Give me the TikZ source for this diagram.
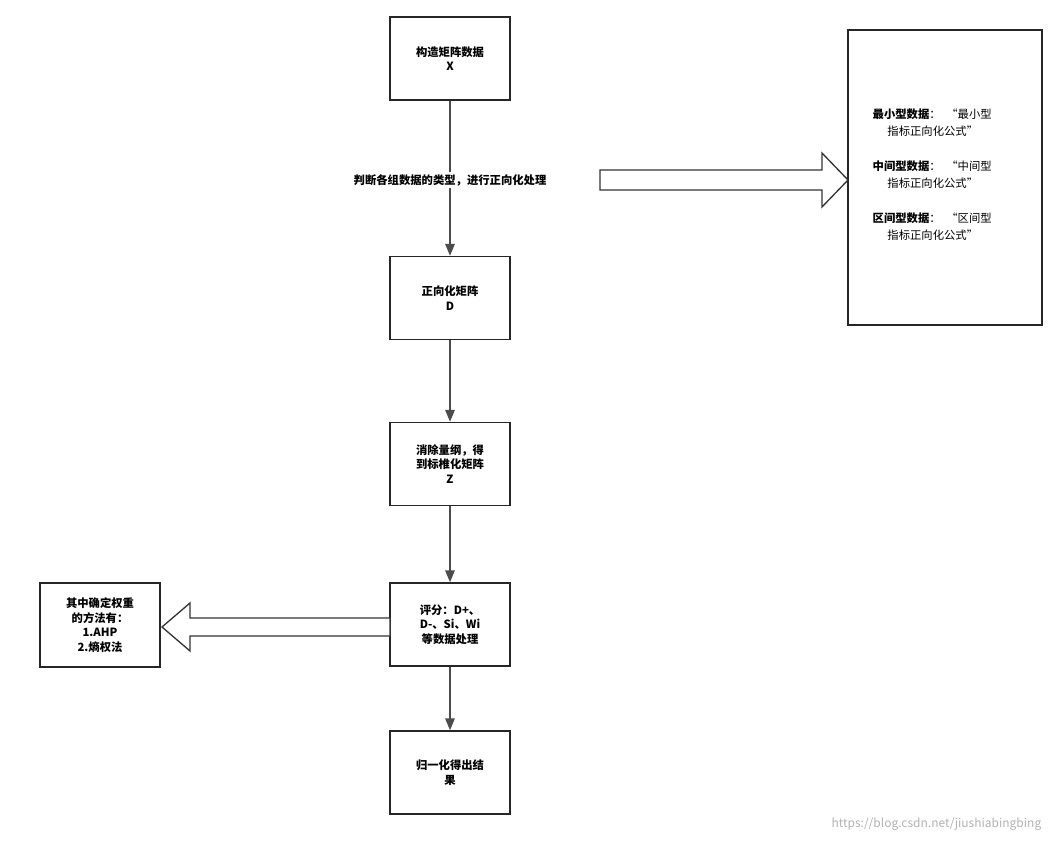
\documentclass[tikz,border=0pt]{standalone}
\usepackage{fontspec}
\setmainfont{Noto Sans CJK SC}
\usetikzlibrary{arrows.meta}
\begin{document}
\begin{tikzpicture}[x=0.75pt,y=-0.75pt,
 box/.style={draw=black!85,line width=1.2pt,fill=white,minimum width=90pt,minimum height=62pt,align=center,font=\fontsize{8.5}{11}\selectfont\bfseries,inner sep=1pt},
 arr/.style={draw=black!70,line width=1.5pt,-{Triangle[length=9pt,width=7pt]}},
 hol/.style={draw=black!80,line width=1pt,fill=white}]
\useasboundingbox (0,0) rectangle (1053,842);
\node[box] (a) at (450,58.5) {构造矩阵数据\\X};
\node[box] (b) at (450,298) {正向化矩阵\\D};
\node[box] (c) at (450,464) {消除量纲，得\\到标椎化矩阵\\Z};
\node[box] (d) at (450,624.5) {评分：D+、\\D-、Si、Wi\\等数据处理};
\node[box] (e) at (450,772.5) {归一化得出结\\果};
\node[box,minimum width=90pt,minimum height=63pt] (l) at (100,625) {其中确定权重\\的方法有：\\1.AHP\\2.熵权法};
\node[draw=black!85,line width=1.2pt,minimum width=145.5pt,minimum height=221pt,align=left,font=\fontsize{8.5}{13}\selectfont] (r) at (945,177.5) {};
\node[font=\fontsize{8.5}{13}\selectfont,align=left,anchor=north west] (rt) at (868,104) {\textbf{最小型数据}：\enspace“最小型\\\hspace{1.3em}指标正向化公式”\\[13pt]\textbf{中间型数据}：\enspace“中间型\\\hspace{1.3em}指标正向化公式”\\[13pt]\textbf{区间型数据}：\enspace“区间型\\\hspace{1.3em}指标正向化公式”};
\draw[arr] (a) -- (b);
\draw[arr] (b) -- (c);
\draw[arr] (c) -- (d);
\draw[arr] (d) -- (e);
\node[fill=white,font=\fontsize{8.5}{11}\selectfont\bfseries,inner sep=2pt] (lab) at (450,180) {判断各组数据的类型，进行正向化处理};
\draw[hol] (600,170) -- (822,170) -- (822,153) -- (848,180) -- (822,207) -- (822,190) -- (600,190) -- cycle;
\draw[hol] (390,618) -- (190,618) -- (190,603) -- (162,627) -- (190,651) -- (190,636) -- (390,636) -- cycle;
\node[anchor=east,text=black!30,font=\fontsize{9}{11}\selectfont] (wm) at (1046,824) {https://blog.csdn.net/jiushiabingbing};
\end{tikzpicture}
\end{document}
